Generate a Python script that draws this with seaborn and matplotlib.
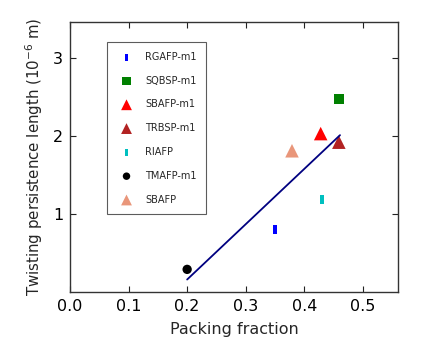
import matplotlib
matplotlib.use("Agg")
import matplotlib.pyplot as plt
import seaborn as sns
import pandas as pd

labels = ["RGAFP-m1", "SQBSP-m1", "SBAFP-m1", "TRBSP-m1", "RIAFP", "TMAFP-m1", "SBAFP"]
packing = [0.35, 0.459, 0.428, 0.459, 0.43, 0.20, 0.379]
persistence = [0.80, 2.47, 2.03, 1.92, 1.19, 0.29, 1.81]
colors = ["#0000ff", "#008000", "#ff0000", "#b22222", "#00bfbf", "#000000", "#e9967a"]
rect = [(-0.5, -1), (0.5, -1), (0.5, 1), (-0.5, 1), (-0.5, -1)]
markers = [rect, "s", "^", "^", rect, "o", "^"]
sizes = [40, 55, 95, 95, 40, 45, 95]

fit_x = [0.20, 0.461]
fit_y = [0.16, 2.01]

sns.set_style("white")
plt.rcParams.update({
    "xtick.direction": "in", "ytick.direction": "in",
    "xtick.top": True, "ytick.right": True,
    "xtick.bottom": True, "ytick.left": True,
    "axes.edgecolor": "#333333", "axes.linewidth": 1.0,
    "xtick.major.size": 4, "ytick.major.size": 4,
})
plt.rcParams["font.family"] = ["DejaVu Sans"]

fig = plt.figure(figsize=(4.26, 3.52), dpi=100)
ax = fig.add_axes([70/426, 60/352, 328/426, 270/352])

df = pd.DataFrame({"x": packing, "y": persistence, "label": labels})
for i, row in df.iterrows():
    sns.scatterplot(x=[row.x], y=[row.y], ax=ax, marker=markers[i], s=sizes[i],
                    color=colors[i], edgecolor="none", linewidth=0, label=row.label)

sns.lineplot(x=fit_x, y=fit_y, ax=ax, color="#000080", linewidth=1.3, legend=False)

ax.set_xlim(0, 0.56)
ax.set_ylim(0, 3.46)
ax.set_xticks([0.0, 0.1, 0.2, 0.3, 0.4, 0.5])
ax.set_xticklabels(["0.0", "0.1", "0.2", "0.3", "0.4", "0.5"])
ax.set_yticks([1, 2, 3])
ax.tick_params(labelsize=11.5, colors="#222222", labelcolor="black", pad=5)
ax.set_xlabel("Packing fraction", fontsize=11.5, labelpad=6)
ax.set_ylabel("Twisting persistence length ($10^{-6}$ m)", fontsize=10.8, labelpad=5.5)

leg = ax.legend(loc="upper left", bbox_to_anchor=(0.113, 0.926), borderaxespad=0,
                fontsize=7, frameon=True, fancybox=False, labelspacing=1.42,
                borderpad=1.0, handletextpad=0.9, markerscale=0.8)
leg.get_frame().set_edgecolor("#333333")
leg.get_frame().set_linewidth(0.8)

fig.savefig("out.png", dpi=100)
